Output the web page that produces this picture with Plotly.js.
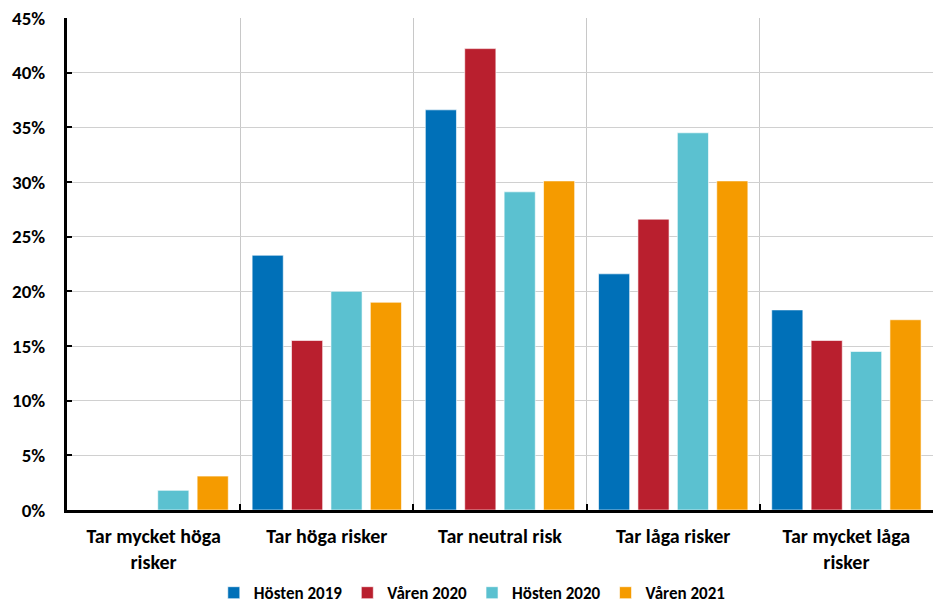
<!DOCTYPE html>
<html>
<head>
<meta charset="utf-8">
<script src="https://cdn.plot.ly/plotly-3.0.1.min.js"></script>
<style>html,body{margin:0;padding:0;background:#fff;}#chart{width:933px;height:604px;}</style>
</head>
<body>
<div id="chart"></div>
<script>
const categories = ["Tar mycket höga<br>risker", "Tar höga risker", "Tar neutral risk", "Tar låga risker", "Tar mycket låga<br>risker"];
const seriesNames = ["Hösten 2019", "Våren 2020", "Hösten 2020", "Våren 2021"];
const hosten2019 = [0, 23.3, 36.6, 21.6, 18.3];
const varen2020 = [0, 15.5, 42.2, 26.6, 15.5];
const hosten2020 = [1.8, 20.0, 29.1, 34.5, 14.5];
const varen2021 = [3.1, 19.0, 30.1, 30.1, 17.4];
const yTickVals = [0, 5, 10, 15, 20, 25, 30, 35, 40, 45];

const colors = ["#0070B8", "#B91F2E", "#5BC1D0", "#F59B00"];
const allValues = [hosten2019, varen2020, hosten2020, varen2021];
const FONT = "Carlito, Lato, 'Open Sans', sans-serif";

const traces = allValues.map((vals, i) => ({
  type: "bar",
  name: seriesNames[i],
  x: categories,
  y: vals,
  marker: {color: colors[i], line: {color: "rgba(255,255,255,0.6)", width: 1}},
  hoverinfo: "x+y+name"
}));

const layout = {
  width: 933,
  height: 604,
  margin: {l: 67, r: 0, t: 18, b: 94, autoexpand: false},
  paper_bgcolor: "#fff",
  plot_bgcolor: "#fff",
  barmode: "group",
  bargap: 0.09,
  bargroupgap: 0.21,
  font: {family: FONT, color: "#000", size: 19, weight: "bold"},
  xaxis: {
    type: "category",
    tickson: "boundaries",
    tickangle: 0,
    automargin: false,
    showgrid: true,
    gridcolor: "#c8c8c8",
    gridwidth: 1,
    showline: true,
    linecolor: "#000",
    linewidth: 3,
    ticks: "inside",
    ticklen: 6,
    tickwidth: 2,
    tickcolor: "#000",
    ticklabelstandoff: 6,
    tickfont: {family: FONT, size: 20, color: "#000", weight: "bold"},
    zeroline: false,
    fixedrange: true
  },
  yaxis: {
    range: [0, 45],
    tickvals: yTickVals,
    ticktext: yTickVals.map(v => v + "%"),
    automargin: false,
    showgrid: true,
    gridcolor: "#d0d0d0",
    gridwidth: 1,
    showline: true,
    linecolor: "#000",
    linewidth: 3,
    ticks: "inside",
    ticklen: 5,
    tickwidth: 2,
    tickcolor: "#000",
    ticklabelstandoff: 15,
    tickfont: {family: FONT, size: 19, color: "#000", weight: "bold"},
    zeroline: false,
    fixedrange: true
  },
  showlegend: true,
  legend: {
    orientation: "h",
    x: 0.468,
    xanchor: "center",
    y: -0.169,
    yanchor: "middle",
    itemwidth: 30,
    font: {family: FONT, size: 17, color: "#000", weight: "bold"},
    tracegroupgap: 0
  }
};

Plotly.newPlot("chart", traces, layout, {displayModeBar: false, staticPlot: true});
</script>
</body>
</html>
